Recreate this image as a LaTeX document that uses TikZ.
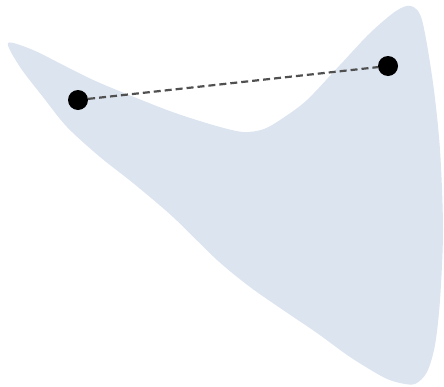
\documentclass[tikz,border=0pt]{standalone}
\definecolor{setblue}{RGB}{220,228,240}
\definecolor{dashgray}{RGB}{80,80,80}
\tikzset{
  dotnode/.style={circle,fill=black,inner sep=0pt,minimum size=20pt},
  segline/.style={draw=dashgray,line width=2.2pt,dash pattern=on 7pt off 4pt}
}
\begin{document}
\begin{tikzpicture}[x=1pt,y=-1pt]
\useasboundingbox (0,0) rectangle (444,386);
\fill[setblue] plot[smooth cycle, tension=0.5] coordinates {
 (8,43) (33,50) (67,67) (100,83) (167,110) (213,125) (243,132) (264,129) (283,118)
 (307,100) (340,65) (370,33) (396,11) (411,6) (422,20) (433,83) (440,150)
 (443,230) (440,300) (435,345) (427,372) (415,384) (400,383) (383,377) (350,357)
 (317,333) (283,310) (250,287) (217,260) (173,217) (133,183) (100,157) (67,127)
 (43,97) (20,67)};
\node[dotnode] (a) at (78,100) {};
\node[dotnode] (b) at (388,66) {};
\draw[segline] (a) -- (b);
\end{tikzpicture}
\end{document}
